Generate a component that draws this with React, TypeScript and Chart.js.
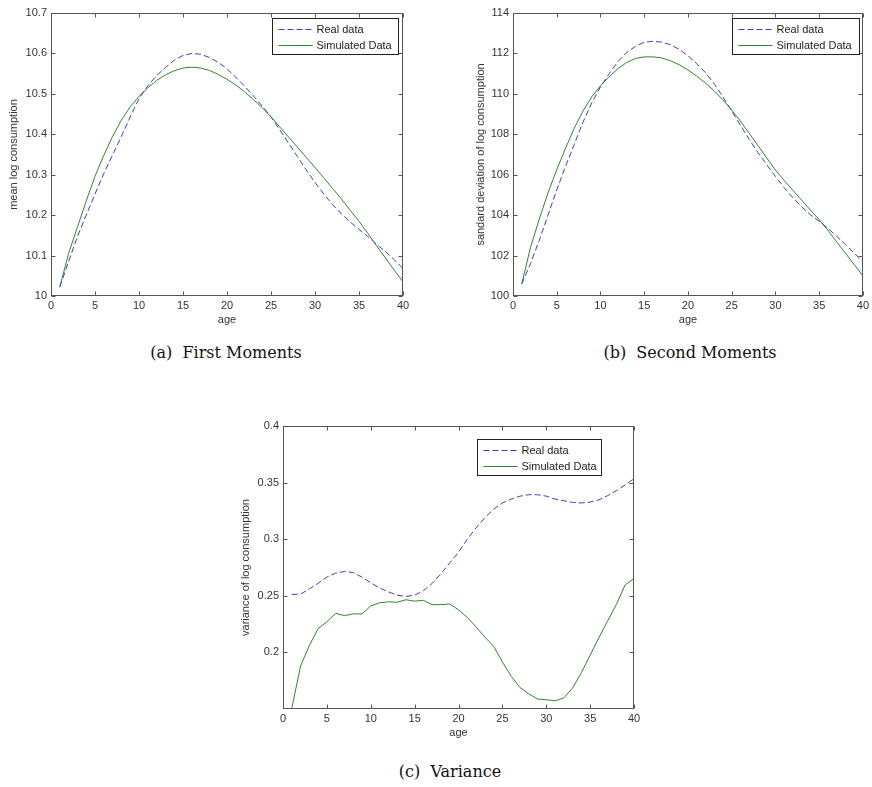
import React, { useEffect, useRef } from 'react';
import { Chart, registerables } from 'chart.js';

Chart.register(...registerables);

const ages = [1, 2, 3, 4, 5, 6, 7, 8, 9, 10, 11, 12, 13, 14, 15, 16, 17, 18, 19, 20,
  21, 22, 23, 24, 25, 26, 27, 28, 29, 30, 31, 32, 33, 34, 35, 36, 37, 38, 39, 40];

const seriesLabels = ['Real data', 'Simulated Data'];

const meanReal = [10.023, 10.085, 10.147, 10.2, 10.252, 10.303, 10.349, 10.395, 10.443, 10.488,
  10.52, 10.545, 10.565, 10.583, 10.595, 10.6, 10.598, 10.59, 10.578, 10.562,
  10.541, 10.519, 10.495, 10.47, 10.443, 10.411, 10.378, 10.345, 10.312, 10.281,
  10.252, 10.226, 10.203, 10.183, 10.165, 10.147, 10.128, 10.11, 10.09, 10.068];
const meanSim = [10.022, 10.105, 10.17, 10.235, 10.296, 10.348, 10.395, 10.435, 10.468, 10.494,
  10.515, 10.533, 10.547, 10.557, 10.564, 10.566, 10.564, 10.558, 10.548, 10.536,
  10.522, 10.505, 10.486, 10.466, 10.443, 10.418, 10.393, 10.368, 10.343, 10.318,
  10.292, 10.266, 10.24, 10.212, 10.185, 10.155, 10.124, 10.094, 10.064, 10.035];

const sdReal = [100.6, 101.6, 102.75, 104.0, 105.25, 106.4, 107.5, 108.6, 109.55, 110.35,
  111.0, 111.6, 112.05, 112.35, 112.55, 112.6, 112.56, 112.43, 112.2, 111.88,
  111.5, 111.05, 110.5, 109.85, 109.15, 108.45, 107.75, 107.1, 106.5, 105.92,
  105.36, 104.86, 104.41, 104.02, 103.7, 103.35, 102.95, 102.55, 102.12, 101.7];
const sdSim = [100.6, 102.4, 103.8, 105.1, 106.25, 107.3, 108.3, 109.15, 109.85, 110.4,
  110.85, 111.25, 111.55, 111.75, 111.83, 111.83, 111.78, 111.64, 111.44, 111.18,
  110.88, 110.54, 110.15, 109.7, 109.2, 108.65, 108.05, 107.45, 106.84, 106.23,
  105.72, 105.23, 104.74, 104.25, 103.78, 103.25, 102.68, 102.12, 101.56, 101.0];

const varReal = [0.2512, 0.2515, 0.256, 0.261, 0.2665, 0.27, 0.2715, 0.2705, 0.2665, 0.2615,
  0.257, 0.2535, 0.2505, 0.2495, 0.2505, 0.2545, 0.261, 0.2695, 0.279, 0.2885,
  0.3, 0.31, 0.319, 0.3265, 0.332, 0.3355, 0.338, 0.3393, 0.3393, 0.338,
  0.3355, 0.334, 0.3325, 0.332, 0.3328, 0.3348, 0.3385, 0.343, 0.348, 0.3535];
const varSim = [0.1505, 0.188, 0.206, 0.221, 0.227, 0.2345, 0.2325, 0.234, 0.234, 0.241,
  0.2438, 0.2447, 0.2443, 0.2465, 0.2453, 0.246, 0.2422, 0.2422, 0.2428, 0.2376,
  0.231, 0.2225, 0.2135, 0.2055, 0.1915, 0.179, 0.169, 0.1635, 0.1588, 0.1582,
  0.1572, 0.1598, 0.1685, 0.182, 0.1975, 0.213, 0.228, 0.2425, 0.2597, 0.2652];

const xTicks = [0, 5, 10, 15, 20, 25, 30, 35, 40];
const meanTicks = [10, 10.1, 10.2, 10.3, 10.4, 10.5, 10.6, 10.7];
const sdTicks = [100, 102, 104, 106, 108, 110, 112, 114];
const varTicks = [0.2, 0.25, 0.3, 0.35, 0.4];

const REAL_COLOR = '#3c3cd0';
const SIM_COLOR = '#2a8a2a';
const AXIS_FONT = { family: '"Liberation Sans", Arial, sans-serif', size: 11 };
const TEXT_COLOR = '#333333';

const framePlugin = {
  id: 'frame',
  afterDatasetsDraw(chart: any, _args: any, opts: any) {
    const { ctx, chartArea } = chart;
    const L = Math.round(chartArea.left) + 0.5;
    const R = Math.round(chartArea.right) - 0.5;
    const T = Math.round(chartArea.top) + 0.5;
    const B = Math.round(chartArea.bottom) - 0.5;
    const xs = chart.scales.x;
    const ys = chart.scales.y;
    const tl = 4;
    ctx.save();
    ctx.strokeStyle = '#555555';
    ctx.lineWidth = 1;
    ctx.setLineDash([]);
    ctx.strokeRect(L, T, R - L, B - T);
    ctx.beginPath();
    xs.ticks.forEach((t: any) => {
      const px = Math.round(xs.getPixelForValue(t.value)) + 0.5;
      ctx.moveTo(px, B);
      ctx.lineTo(px, B - tl);
      ctx.moveTo(px, T);
      ctx.lineTo(px, T + tl);
    });
    ys.ticks.forEach((t: any) => {
      const py = Math.round(ys.getPixelForValue(t.value)) + 0.5;
      ctx.moveTo(L, py);
      ctx.lineTo(L + tl, py);
      ctx.moveTo(R, py);
      ctx.lineTo(R - tl, py);
    });
    ctx.stroke();

    // boxed legend
    const w = opts.width;
    const h = opts.height;
    const bx = Math.round(chartArea.right - opts.right - w) + 0.5;
    const by = Math.round(chartArea.top + opts.top) + 0.5;
    ctx.fillStyle = '#ffffff';
    ctx.fillRect(bx, by, w, h);
    ctx.strokeStyle = '#222222';
    ctx.strokeRect(bx, by, w, h);
    chart.data.datasets.forEach((ds: any, i: number) => {
      const yy = Math.round(by + 10 + i * 16) + 0.5;
      ctx.beginPath();
      ctx.setLineDash(ds.borderDash || []);
      ctx.strokeStyle = ds.borderColor;
      ctx.lineWidth = 1;
      ctx.moveTo(bx + 6, yy);
      ctx.lineTo(bx + 40, yy);
      ctx.stroke();
      ctx.setLineDash([]);
      ctx.fillStyle = '#222222';
      ctx.font = '11px "Liberation Sans", Arial, sans-serif';
      ctx.textBaseline = 'middle';
      ctx.textAlign = 'left';
      ctx.fillText(ds.label, bx + 44, yy);
    });
    ctx.restore();
  },
};

const fmt = (v: any) => String(+Number(v).toFixed(3));

type PanelProps = {
  left: number; top: number; width: number; height: number;
  areaTop: number; areaRight: number; yWidth: number; xHeight: number;
  yMin: number; yMax: number; yTicks: number[];
  real: number[]; sim: number[];
  yTitle: string; yTitlePad: number; xTitlePad: number;
  legend: { right: number; top: number; width: number; height: number };
};

function Panel(p: PanelProps) {
  const ref = useRef<HTMLCanvasElement>(null);
  useEffect(() => {
    if (!ref.current) return;
    const chart = new Chart(ref.current, {
      type: 'line',
      data: {
        datasets: [
          {
            label: seriesLabels[0],
            data: ages.map((a, i) => ({ x: a, y: p.real[i] })),
            borderColor: REAL_COLOR,
            borderWidth: 1,
            borderDash: [6, 3],
            pointRadius: 0,
            tension: 0,
            fill: false,
          },
          {
            label: seriesLabels[1],
            data: ages.map((a, i) => ({ x: a, y: p.sim[i] })),
            borderColor: SIM_COLOR,
            borderWidth: 1,
            pointRadius: 0,
            tension: 0,
            fill: false,
          },
        ],
      },
      options: {
        animation: false,
        responsive: false,
        maintainAspectRatio: false,
        layout: { padding: { top: p.areaTop, right: p.areaRight, left: 0, bottom: 0 } },
        plugins: {
          legend: { display: false },
          tooltip: { enabled: false },
          frame: p.legend,
        } as any,
        scales: {
          x: {
            type: 'linear',
            min: 0,
            max: 40,
            grid: { display: false, drawTicks: false },
            border: { display: false },
            ticks: { font: AXIS_FONT, color: TEXT_COLOR, padding: 3, maxRotation: 0, autoSkip: false, callback: fmt },
            afterBuildTicks: (s: any) => { s.ticks = xTicks.map((v) => ({ value: v })); },
            afterFit: (s: any) => { s.height = p.xHeight; },
            title: { display: true, text: 'age', font: AXIS_FONT, color: TEXT_COLOR, padding: { top: 0, bottom: p.xTitlePad } },
          },
          y: {
            type: 'linear',
            min: p.yMin,
            max: p.yMax,
            grid: { display: false, drawTicks: false },
            border: { display: false },
            ticks: { font: AXIS_FONT, color: TEXT_COLOR, padding: 4, autoSkip: false, callback: fmt },
            afterBuildTicks: (s: any) => { s.ticks = p.yTicks.map((v) => ({ value: v })); },
            afterFit: (s: any) => { s.width = p.yWidth; },
            title: { display: true, text: p.yTitle, font: AXIS_FONT, color: TEXT_COLOR, padding: { top: p.yTitlePad, bottom: 0 } },
          },
        },
      } as any,
      plugins: [framePlugin as any],
    });
    return () => chart.destroy();
  }, []);
  return (
    <div style={{ position: 'absolute', left: p.left, top: p.top, width: p.width, height: p.height }}>
      <canvas ref={ref} width={p.width} height={p.height} style={{ width: p.width, height: p.height, display: 'block' }} />
    </div>
  );
}

const captionStyle = (cx: number, cy: number): React.CSSProperties => ({
  position: 'absolute',
  left: cx - 150,
  top: cy - 11,
  width: 300,
  height: 22,
  lineHeight: '22px',
  textAlign: 'center',
  fontFamily: '"DejaVu Serif", "Liberation Serif", serif',
  fontSize: 16,
  color: '#111',
  whiteSpace: 'pre',
});

export default function App() {
  return (
    <div style={{ position: 'absolute', left: 0, top: 0, width: 872, height: 787, background: '#ffffff', overflow: 'hidden' }}>
      <Panel left={0} top={0} width={420} height={330} areaTop={13} areaRight={17} yWidth={51} xHeight={34}
        yMin={10} yMax={10.7} yTicks={meanTicks} real={meanReal} sim={meanSim}
        yTitle="mean log consumption" yTitlePad={7} xTitlePad={3}
        legend={{ right: 5, top: 5, width: 126, height: 36 }} />
      <Panel left={440} top={0} width={432} height={330} areaTop={13} areaRight={6} yWidth={73} xHeight={34}
        yMin={100} yMax={114} yTicks={sdTicks} real={sdReal} sim={sdSim}
        yTitle="sandard deviation of log consumption" yTitlePad={34} xTitlePad={3}
        legend={{ right: 4, top: 5, width: 127, height: 36 }} />
      <Panel left={230} top={410} width={420} height={330} areaTop={16} areaRight={16} yWidth={53} xHeight={31}
        yMin={0.15} yMax={0.4} yTicks={varTicks} real={varReal} sim={varSim}
        yTitle="variance of log consumption" yTitlePad={9} xTitlePad={0}
        legend={{ right: 33, top: 13, width: 124, height: 36 }} />
      <div style={captionStyle(226, 353)}>(a)  First Moments</div>
      <div style={captionStyle(690, 353)}>(b)  Second Moments</div>
      <div style={captionStyle(450, 772)}>(c)  Variance</div>
    </div>
  );
}
